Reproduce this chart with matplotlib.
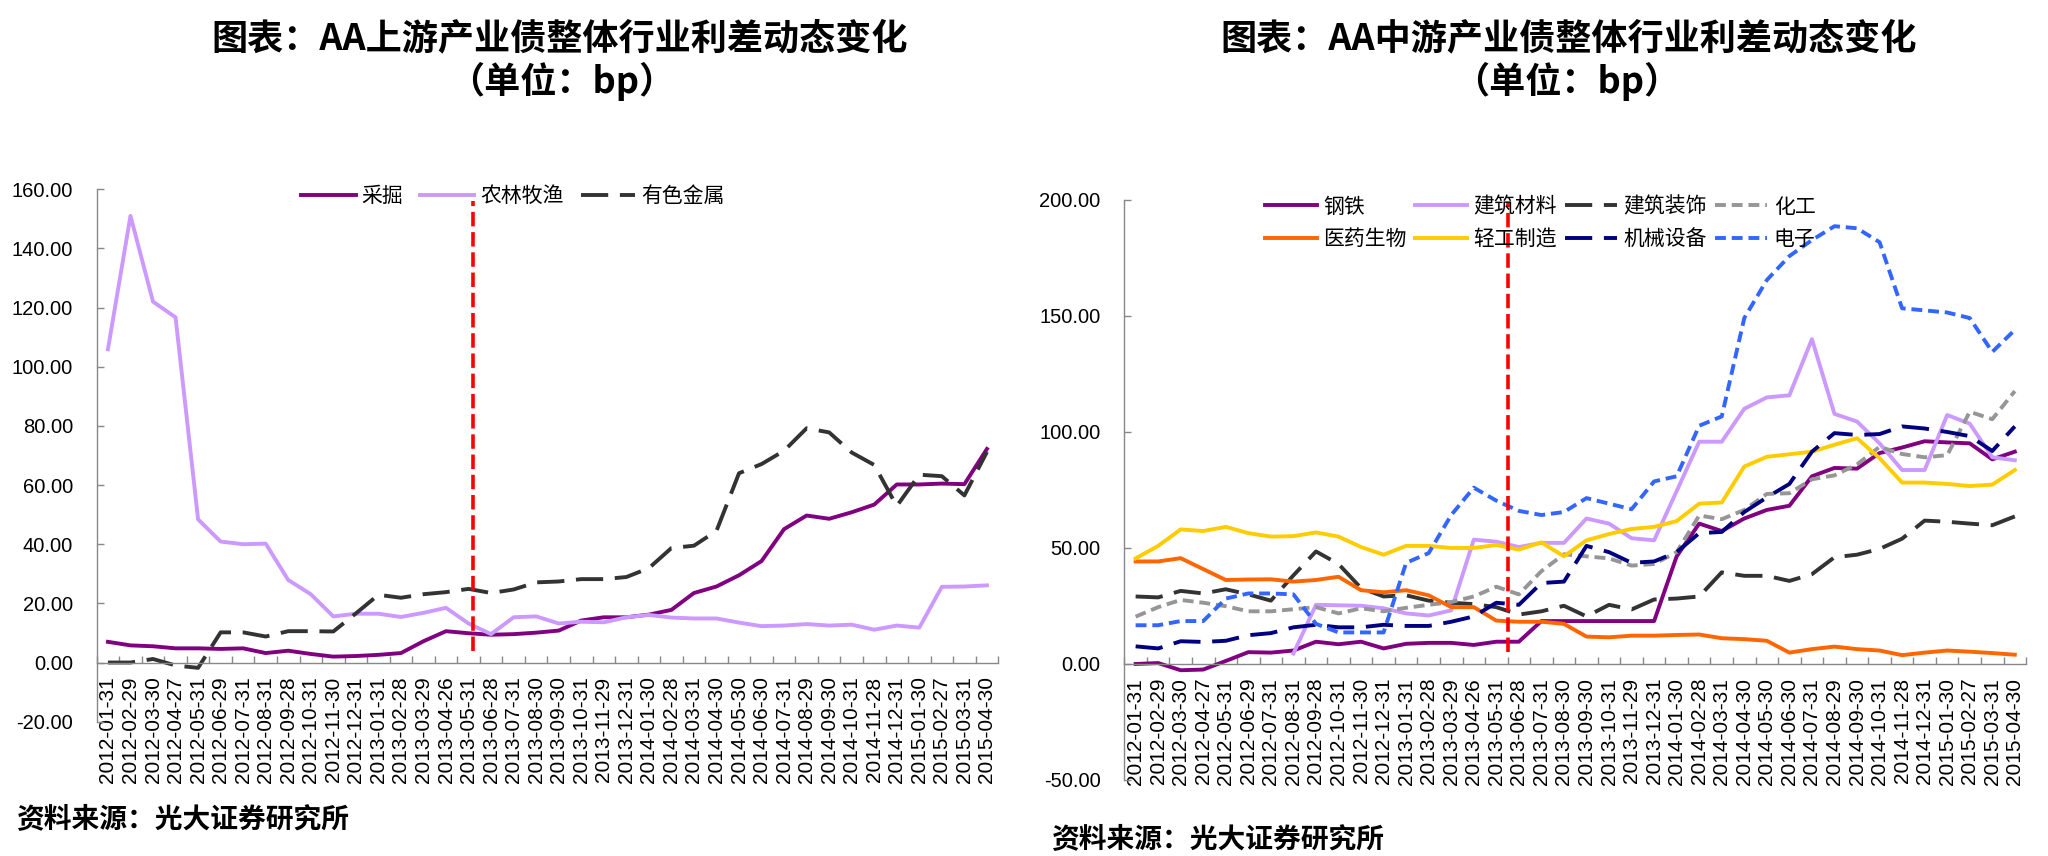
import numpy as np
import matplotlib
matplotlib.use("Agg")
import matplotlib.pyplot as plt

plt.rcParams['font.family'] = ['Liberation Sans', 'Noto Sans CJK SC']
cjk = ['Noto Sans CJK SC', 'DejaVu Sans']

# dados

datas = ["2012-01-31", "2012-02-29", "2012-03-30", "2012-04-27", "2012-05-31", "2012-06-29",
         "2012-07-31", "2012-08-31", "2012-09-28", "2012-10-31", "2012-11-30", "2012-12-31",
         "2013-01-31", "2013-02-28", "2013-03-29", "2013-04-26", "2013-05-31", "2013-06-28",
         "2013-07-31", "2013-08-30", "2013-09-30", "2013-10-31", "2013-11-29", "2013-12-31",
         "2014-01-30", "2014-02-28", "2014-03-31", "2014-04-30", "2014-05-30", "2014-06-30",
         "2014-07-31", "2014-08-29", "2014-09-30", "2014-10-31", "2014-11-28", "2014-12-31",
         "2015-01-30", "2015-02-27", "2015-03-31", "2015-04-30"]

# esquerda: AA上游
caijue = [7.0, 5.8, 5.5, 4.8, 4.8, 4.6, 4.8, 3.2, 4.0, 2.9, 2.0, 2.2, 2.6, 3.2, 7.2, 10.6, 9.9, 9.4, 9.6, 10.1,
          10.8, 14.2, 15.3, 15.3, 16.2, 17.8, 23.5, 25.7, 29.5, 34.3, 45.1, 49.7, 48.6, 50.8, 53.4, 60.2, 60.2, 60.5, 60.3, 72.2]
nonglin = [105.9, 151.0, 122.0, 116.7, 48.4, 40.9, 40.0, 40.2, 27.9, 23.1, 15.6, 16.5, 16.5, 15.4, 16.8, 18.5, 13.2, 9.6, 15.3, 15.6,
           13.2, 13.8, 13.6, 15.3, 16.1, 15.2, 14.9, 14.9, 13.5, 12.3, 12.5, 13.0, 12.5, 12.8, 11.1, 12.5, 11.8, 25.6, 25.7, 26.1]
youse = [0.0, 0.0, 1.2, -1.0, -1.8, 10.2, 10.2, 8.8, 10.6, 10.6, 10.5, 16.6, 22.9, 21.9, 23.1, 23.8, 24.9, 23.5, 24.7, 27.1,
         27.4, 28.2, 28.2, 28.9, 31.9, 38.7, 39.5, 44.5, 64.0, 67.1, 71.6, 79.2, 77.8, 71.0, 66.8, 52.9, 63.5, 63.0, 56.5, 71.2]

# direita: AA中游
gangtie = [0.0, 0.4, -2.7, -2.4, 1.3, 5.1, 4.9, 5.8, 9.6, 8.5, 9.6, 6.7, 8.7, 9.1, 9.1, 8.2, 9.6, 9.6, 18.5, 18.5,
           18.5, 18.5, 18.5, 18.5, 46.4, 60.5, 57.3, 62.7, 66.4, 68.2, 80.9, 84.5, 84.2, 90.9, 93.3, 96.0, 95.5, 95.1, 88.2, 91.5]
jiancai = [np.nan] * 7 + [4.5, 25.5, 25.3, 25.1, 24.0, 21.8, 20.9, 23.1, 53.6, 52.7, 50.4, 52.2, 52.2,
           62.7, 60.5, 54.2, 53.3, 74.5, 95.8, 95.8, 110.0, 114.9, 115.8, 140.0, 107.8, 104.5, 95.1, 83.6, 83.6, 107.3, 103.6, 89.1, 87.8]
jianzhuang = [29.1, 28.7, 31.5, 30.4, 32.2, 30.0, 27.3, 38.2, 48.5, 43.1, 32.7, 29.1, 29.6, 27.3, 26.4, 25.8, 24.5, 21.3, 22.7, 25.1,
              20.5, 25.5, 23.5, 27.8, 28.2, 29.1, 39.5, 38.0, 38.0, 35.8, 38.7, 46.0, 47.1, 49.6, 54.0, 61.8, 61.3, 60.5, 59.8, 63.6]
huagong = [20.4, 24.5, 27.6, 26.4, 24.9, 22.7, 22.7, 23.6, 24.5, 21.8, 24.0, 22.7, 24.2, 25.5, 26.7, 29.1, 33.3, 30.0, 40.0, 47.3,
           46.4, 45.5, 42.4, 43.1, 48.2, 64.0, 62.4, 66.4, 73.3, 73.6, 79.6, 81.3, 86.0, 93.6, 90.5, 89.1, 90.0, 108.7, 105.5, 117.6]
yiyao = [44.2, 44.2, 45.6, 40.9, 36.2, 36.4, 36.5, 35.5, 36.2, 37.6, 31.8, 30.9, 31.8, 29.6, 24.5, 24.5, 18.7, 18.2, 18.2, 17.3,
         11.8, 11.5, 12.2, 12.2, 12.5, 12.7, 11.1, 10.7, 10.0, 4.9, 6.4, 7.5, 6.4, 5.8, 3.8, 4.9, 5.8, 5.3, 4.7, 4.0]
qinggong = [45.5, 50.9, 58.0, 57.3, 59.1, 56.4, 54.9, 55.1, 56.7, 54.9, 50.4, 47.1, 50.9, 50.9, 50.0, 50.0, 51.3, 49.3, 52.4, 46.4,
            53.3, 56.0, 58.2, 59.1, 61.6, 69.1, 69.6, 85.1, 89.3, 90.4, 91.5, 94.5, 97.3, 88.7, 78.2, 78.2, 77.6, 76.7, 77.3, 83.6]
jixie = [7.6, 6.7, 9.8, 9.5, 10.0, 12.4, 13.3, 15.8, 16.9, 15.8, 15.8, 16.9, 16.4, 16.4, 18.2, 20.5, 26.4, 25.5, 34.9, 35.5,
         50.9, 48.2, 43.6, 44.2, 48.2, 56.4, 56.9, 65.5, 71.8, 77.6, 91.5, 99.5, 98.7, 99.1, 102.4, 101.5, 100.0, 98.2, 91.8, 102.4]
dianzi = [16.7, 16.7, 18.5, 18.5, 28.2, 30.4, 30.4, 30.0, 17.3, 13.6, 13.6, 13.6, 43.6, 47.8, 64.2, 76.0, 70.4, 66.0, 64.2, 65.5,
          71.5, 69.1, 66.7, 78.7, 80.9, 102.7, 106.7, 149.1, 165.5, 175.8, 182.7, 188.7, 187.8, 181.8, 153.3, 152.4, 151.5, 149.1, 134.5, 144.0]

x = np.arange(len(datas))

LW = 2.8
longo = (0, (7, 3))
curto = (0, (2.8, 1.5))
tracejado_vermelho = (0, (4, 1.6))

fig = plt.figure(figsize=(20.48, 8.56), dpi=100)
ax1 = fig.add_axes([0.0472, 0.1569, 0.4402, 0.622])
ax2 = fig.add_axes([0.5490, 0.0888, 0.4403, 0.6776])

def estilo(ax, ymin, ymax, passo):
	ax.set_xlim(-0.5, len(datas) - 0.5)
	ax.set_ylim(ymin, ymax)
	for s in ['top', 'right']:
		ax.spines[s].set_visible(False)
	for s in ['left', 'bottom']:
		ax.spines[s].set_color('#888888')
		ax.spines[s].set_linewidth(1.0)
	ax.spines['bottom'].set_position(('data', 0))
	ax.set_yticks(np.arange(ymin, ymax + 1, passo))
	ax.set_yticklabels(["%.2f" % v for v in np.arange(ymin, ymax + 1, passo)])
	ax.set_xticks(np.arange(-0.5, len(datas), 1.0))
	ax.set_xticklabels([])
	ax.set_xticks(x, minor=True)
	ax.set_xticklabels(datas, minor=True, rotation=90)
	ax.tick_params(axis='x', which='major', direction='in', length=5, color='#888888', width=1.0)
	ax.tick_params(axis='x', which='minor', length=0, pad=10, labelsize=15)
	ax.tick_params(axis='y', direction='in', length=5, color='#888888', width=1.0, pad=17, labelsize=14.5)

# grafico esquerda
ax1.plot(x, caijue, color='#800080', lw=LW, label='采掘')
ax1.plot(x, nonglin, color='#CC99FF', lw=LW, label='农林牧渔')
ax1.plot(x, youse, color='#333333', lw=LW, linestyle=longo, label='有色金属')
ax1.plot([16.2, 16.2], [4, 156], color='#FF0000', lw=2.6, linestyle=tracejado_vermelho)
estilo(ax1, -20, 160, 20)
ax1.legend(loc='center', bbox_to_anchor=(0.2505, 0.771), bbox_transform=fig.transFigure,
           ncol=3, frameon=False, prop={'family': cjk, 'size': 15},
           handlelength=2.6, handletextpad=0.3, columnspacing=0.8)

# grafico direita
l1, = ax2.plot(x, gangtie, color='#800080', lw=LW, label='钢铁')
l2, = ax2.plot(x, jiancai, color='#CC99FF', lw=LW, label='建筑材料')
l3, = ax2.plot(x, jianzhuang, color='#333333', lw=LW, linestyle=longo, label='建筑装饰')
l4, = ax2.plot(x, huagong, color='#969696', lw=LW, linestyle=curto, label='化工')
l5, = ax2.plot(x, yiyao, color='#FF6600', lw=LW, label='医药生物')
l6, = ax2.plot(x, qinggong, color='#FFCC00', lw=LW, label='轻工制造')
l7, = ax2.plot(x, jixie, color='#000080', lw=LW, linestyle=longo, label='机械设备')
l8, = ax2.plot(x, dianzi, color='#3366FF', lw=LW, linestyle=curto, label='电子')
ax2.plot([16.5, 16.5], [5, 199], color='#FF0000', lw=2.6, linestyle=tracejado_vermelho)
estilo(ax2, -50, 200, 50)
hs = [l1, l5, l2, l6, l3, l7, l4, l8]
ax2.legend(hs, [h.get_label() for h in hs], loc='center', bbox_to_anchor=(0.752, 0.7395),
           bbox_transform=fig.transFigure, ncol=4, frameon=False, prop={'family': cjk, 'size': 15},
           handlelength=2.5, handletextpad=0.3, columnspacing=0.4, labelspacing=0.5)

# titulos e fonte
fig.text(0.2734, 1 - 39 / 856, '图表：AA上游产业债整体行业利差动态变化', ha='center', va='center',
         family=cjk, fontsize=26, fontweight='bold')
fig.text(0.2744, 1 - 81 / 856, '（单位：bp）', ha='center', va='center',
         family=cjk, fontsize=26, fontweight='bold')
fig.text(0.7661, 1 - 39 / 856, '图表：AA中游产业债整体行业利差动态变化', ha='center', va='center',
         family=cjk, fontsize=26, fontweight='bold')
fig.text(0.7651, 1 - 81 / 856, '（单位：bp）', ha='center', va='center',
         family=cjk, fontsize=26, fontweight='bold')
fig.text(16 / 2048, 1 - 820 / 856, '资料来源：光大证券研究所', ha='left', va='center',
         family=cjk, fontsize=20, fontweight='bold')
fig.text(1051 / 2048, 1 - 840 / 856, '资料来源：光大证券研究所', ha='left', va='center',
         family=cjk, fontsize=20, fontweight='bold')

fig.savefig('out.png', dpi=100)
